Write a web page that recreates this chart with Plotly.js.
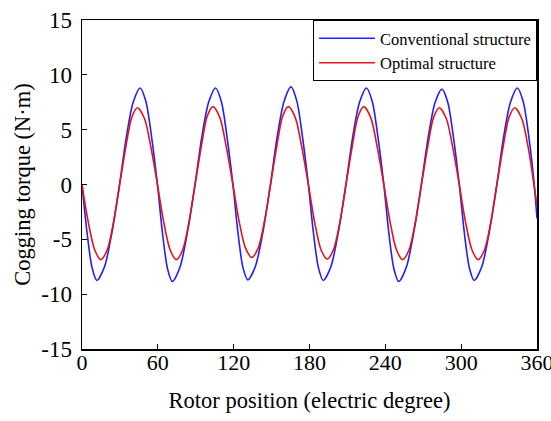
<!DOCTYPE html>
<html>
<head>
<meta charset="utf-8">
<script src="https://cdn.plot.ly/plotly-3.0.1.min.js"></script>
<style>html,body{margin:0;padding:0;background:#fff;} .main-svg text{font-family:"Liberation Serif","Times New Roman",Tinos,"DejaVu Serif",serif !important;}</style>
</head>
<body>
<div id="chart" style="width:551px;height:421px;"></div>
<script>
// Conventional structure (blue)
var convX = [0,4,8,11.8,17.8,23.8,29.7,35.1,40.5,46,50.6,55.1,
  59.7,63.7,67.7,71.5,77.5,83.5,89.4,94.8,100.2,105.7,110.3,114.8,
  119.4,123.4,127.4,131.2,137.2,143.2,149.1,154.5,159.9,165.4,170,174.5,
  179.1,183.1,187.1,190.9,196.9,202.9,208.8,214.2,219.6,225.1,229.7,234.2,
  238.8,242.8,246.8,250.6,256.6,262.6,268.5,273.9,279.3,284.8,289.4,293.9,
  298.5,302.5,306.5,310.3,316.3,322.3,328.2,333.6,339,344.5,349.1,353.6,
  357.8,360];
var convY = [0,-4.4,-7.6,-8.75,-7.5,-4.3,0,4.35,7.5,8.8,7.55,4.3,
  0,-4.45,-7.7,-8.85,-7.55,-4.3,0,4.35,7.5,8.8,7.55,4.3,
  0,-4.4,-7.6,-8.7,-7.45,-4.3,0,4.4,7.6,8.9,7.6,4.3,
  0,-4.4,-7.6,-8.75,-7.5,-4.3,0,4.35,7.5,8.8,7.55,4.3,
  0,-4.45,-7.7,-8.85,-7.55,-4.3,0,4.3,7.45,8.7,7.5,4.3,
  0,-4.4,-7.6,-8.75,-7.5,-4.3,0,4.35,7.5,8.8,7.55,4.3,
  0,-3.1];

// Optimal structure (red)
var optX = [0,5,10,14.9,20,25,29.8,34.8,39.3,43.9,49.5,54.5,
  59.7,64.7,69.7,74.6,79.7,84.7,89.5,94.5,99,103.6,109.2,114.2,
  119.4,124.4,129.4,134.3,139.4,144.4,149.2,154.2,158.7,163.3,168.9,173.9,
  179.1,184.1,189.1,194,199.1,204.1,208.9,213.9,218.4,223,228.6,233.6,
  238.8,243.8,248.8,253.7,258.8,263.8,268.6,273.6,278.1,282.7,288.3,293.3,
  298.5,303.5,308.5,313.4,318.5,323.5,328.3,333.3,337.8,342.4,348,353,
  357.6,360];
var optY = [0,-3.45,-5.95,-6.85,-5.95,-3.4,0,3.5,6.1,7.0,6.0,3.4,
  0,-3.45,-5.95,-6.85,-5.95,-3.4,0,3.55,6.2,7.1,6.05,3.4,
  0,-3.4,-5.8,-6.65,-5.8,-3.35,0,3.55,6.2,7.1,6.05,3.4,
  0,-3.45,-5.95,-6.8,-5.9,-3.4,0,3.55,6.2,7.1,6.05,3.4,
  0,-3.45,-5.95,-6.85,-5.95,-3.4,0,3.5,6.1,7.0,6.0,3.4,
  0,-3.45,-5.95,-6.85,-5.95,-3.4,0,3.5,6.1,7.0,6.0,3.4,
  0,-1.9];

var xTicks = [0,60,120,180,240,300,360];
var yTicks = [-15,-10,-5,0,5,10,15];

var serif = '"Liberation Serif", "Times New Roman", Tinos, "DejaVu Serif", serif';

var traces = [
  {x: convX, y: convY, type: 'scatter', mode: 'lines', name: 'Conventional structure',
   line: {color: '#1f1fff', width: 1.6, shape: 'spline', smoothing: 0.8}},
  {x: optX, y: optY, type: 'scatter', mode: 'lines', name: 'Optimal structure',
   line: {color: '#e0161b', width: 1.6, shape: 'spline', smoothing: 0.8}}
];

var layout = {
  width: 551, height: 421,
  margin: {l: 82, r: 14, t: 20, b: 72},
  paper_bgcolor: '#fff', plot_bgcolor: '#fff',
  font: {family: serif, color: '#000'},
  showlegend: true,
  legend: {x: 1, xanchor: 'right', y: 1, yanchor: 'top',
    bgcolor: '#fff', bordercolor: '#000', borderwidth: 1, itemwidth: 56,
    font: {family: serif, size: 16.5, color: '#000'}, tracegroupgap: 0},
  xaxis: {range: [0, 360], tickvals: xTicks, ticktext: xTicks.map(String),
    ticks: 'inside', ticklen: 5, tickwidth: 1.3, tickcolor: '#000',
    showline: true, linecolor: '#000', linewidth: 1.5, mirror: true,
    showgrid: false, zeroline: false, ticklabeloverflow: 'allow', ticklabelstandoff: -7,
    tickfont: {family: serif, size: 22, color: '#000'},
    title: {text: 'Rotor position (electric degree)', font: {family: serif, size: 22.5, color: '#000'}, standoff: 18}},
  yaxis: {range: [-15, 15], tickvals: yTicks, ticktext: yTicks.map(String),
    ticks: 'inside', ticklen: 5, tickwidth: 1.3, tickcolor: '#000',
    showline: true, linecolor: '#000', linewidth: 1.5, mirror: true,
    showgrid: false, zeroline: false, ticklabelstandoff: 4, ticklabeloverflow: 'allow',
    tickfont: {family: serif, size: 23, color: '#000'},
    title: {text: 'Cogging torque (N·m)', font: {family: serif, size: 22.5, color: '#000'}, standoff: 4}}
};

Plotly.newPlot('chart', traces, layout, {staticPlot: true, displayModeBar: false});
</script>
</body>
</html>
